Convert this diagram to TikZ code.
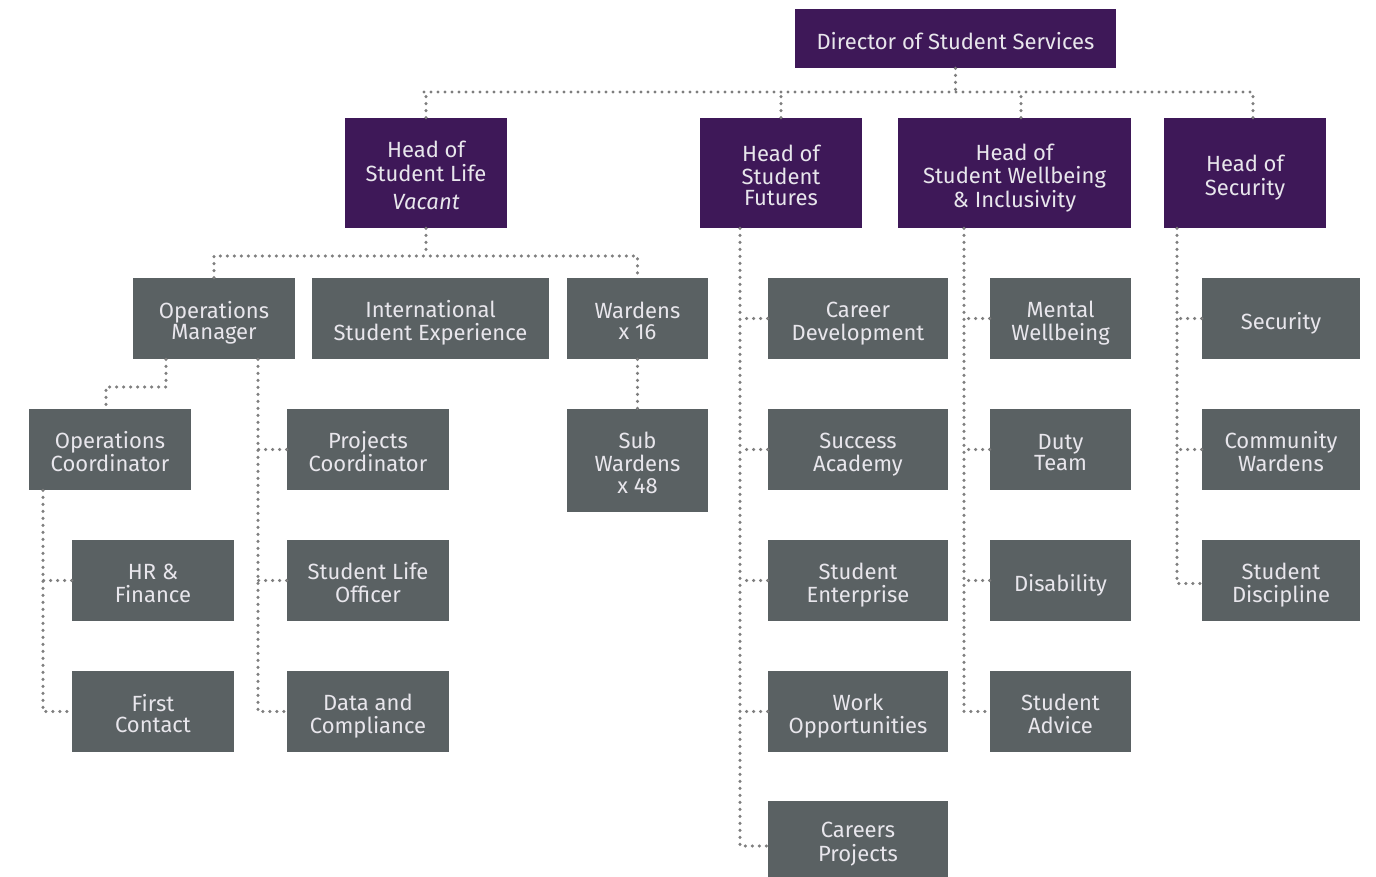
\documentclass[tikz,border=0pt]{standalone}
\usepackage{fontspec}
\setmainfont{Fira Sans}
\definecolor{headpurple}{HTML}{3E1858}
\definecolor{unitgrey}{HTML}{5A6163}
\definecolor{dotgrey}{HTML}{7E7E7E}
\definecolor{boxtext}{HTML}{E8E6EC}
\newcommand{\rolelines}[1]{{\renewcommand{\arraystretch}{0.96}%
	\begin{tabular}{@{}c@{}}\rule{0pt}{13.7pt}#1\end{tabular}}}

\begin{document}
\begin{tikzpicture}[x=0.5pt,y=-0.5pt,
		box/.style={rectangle, inner sep=0pt, text=boxtext,
			font=\fontsize{11}{11}\selectfont},
		head/.style={box, fill=headpurple, minimum height=55pt},
		unit/.style={box, fill=unitgrey, minimum height=40.5pt},
		link/.style={dotgrey, line width=1.7pt, line cap=round, dash pattern=on 0pt off 3.5pt}]
		\useasboundingbox (0,0) rectangle (1376,877);
		% top level
		\node[head, minimum width=160.5pt, minimum height=29.5pt] (dir) at (955.5,38.5) {\rolelines{Director of Student Services}};
		\node[head, minimum width=81pt] (hsl) at (426,173) {\rolelines{Head of\\Student Life\\[3.5pt]\textit{Vacant}}};
		\node[head, minimum width=81pt] (hsf) at (781,173) {\rolelines{Head of\\Student\\Futures}};
		\node[head, minimum width=116.5pt] (hswi) at (1014.5,173) {\rolelines{Head of\\Student Wellbeing\\\& Inclusivity}};
		\node[head, minimum width=81pt] (hsec) at (1245,173) {\rolelines{Head of\\Security}};
		% student life
		\node[unit, minimum width=81pt] (om) at (214,318.5) {\rolelines{Operations\\Manager}};
		\node[unit, minimum width=118.5pt] (ise) at (430.5,318.5) {\rolelines{International\\Student Experience}};
		\node[unit, minimum width=70.5pt] (war) at (637.5,318.5) {\rolelines{Wardens\\x 16}};
		\node[unit, minimum width=70.5pt, minimum height=51.5pt] (sw) at (637.5,460.5) {\rolelines{Sub\\Wardens\\x 48}};
		\node[unit, minimum width=81pt] (oc) at (110,449.5) {\rolelines{Operations\\Coordinator}};
		\node[unit, minimum width=81pt] (hr) at (153,580.5) {\rolelines{HR \&\\Finance}};
		\node[unit, minimum width=81pt] (fc) at (153,711.5) {\rolelines{First\\Contact}};
		\node[unit, minimum width=81pt] (pc) at (368,449.5) {\rolelines{Projects\\Coordinator}};
		\node[unit, minimum width=81pt] (slo) at (368,580.5) {\rolelines{Student Life\\Officer}};
		\node[unit, minimum width=81pt] (dc) at (368,711.5) {\rolelines{Data and\\Compliance}};
		% student futures
		\node[unit, minimum width=90pt] (cd) at (858,318.5) {\rolelines{Career\\Development}};
		\node[unit, minimum width=90pt] (sa) at (858,449.5) {\rolelines{Success\\Academy}};
		\node[unit, minimum width=90pt] (se) at (858,580.5) {\rolelines{Student\\Enterprise}};
		\node[unit, minimum width=90pt] (wo) at (858,711.5) {\rolelines{Work\\Opportunities}};
		\node[unit, minimum width=90pt, minimum height=38pt] (cpj) at (858,839) {\rolelines{Careers\\Projects}};
		% wellbeing
		\node[unit, minimum width=70.5pt] (mw) at (1060.5,318.5) {\rolelines{Mental\\Wellbeing}};
		\node[unit, minimum width=70.5pt] (dt) at (1060.5,449.5) {\rolelines{Duty\\Team}};
		\node[unit, minimum width=70.5pt] (dis) at (1060.5,580.5) {\rolelines{Disability}};
		\node[unit, minimum width=70.5pt] (sadv) at (1060.5,711.5) {\rolelines{Student\\Advice}};
		% security
		\node[unit, minimum width=79pt] (secu) at (1281,318.5) {\rolelines{Security}};
		\node[unit, minimum width=79pt] (cw) at (1281,449.5) {\rolelines{Community\\Wardens}};
		\node[unit, minimum width=79pt] (sdis) at (1281,580.5) {\rolelines{Student\\Discipline}};

		% links
		\coordinate (busL) at (424,92);
		\coordinate (busR) at (1253,92);
		\draw[link] (busL) -- (busR);
		\draw[link] (dir.south) -- (dir.south |- busL);
		\draw[link] (hsl.north) -- (hsl.north |- busL);
		\draw[link] (hsf.north) -- (hsf.north |- busL);
		\draw[link] ([xshift=3.25pt]hswi.north) -- ([xshift=3.25pt]hswi.north |- busL);
		\draw[link] ([xshift=4pt]hsec.north) -- ([xshift=4pt]hsec.north |- busL);

		\draw[link] (hsl.south) -- (hsl.south |- 0,256);
		\draw[link] (om.north) -- (om.north |- 0,256) -| (war.north);
		\draw[link] (war.south) -- (sw.north);

		\draw[link] (om.south -| 166,0) -- (166,387) -| (oc.north -| 106,0);
		\draw[link] (om.south -| 258,0) |- (dc.west);
		\foreach \n in {pc,slo}
			\draw[link] (\n.west) -- (\n.west -| 258,0);
		\draw[link] (oc.south -| 43,0) |- (fc.west);
		\draw[link] (hr.west) -- (hr.west -| 43,0);

		\draw[link] (hsf.south -| 740,0) |- ([yshift=-3.5pt]cpj.west);
		\foreach \n in {cd,sa,se,wo}
			\draw[link] (\n.west) -- (\n.west -| 740,0);

		\draw[link] (hswi.south -| 964,0) |- (sadv.west);
		\foreach \n in {mw,dt,dis}
			\draw[link] (\n.west) -- (\n.west -| 964,0);

		\draw[link] (hsec.south -| 1177,0) |- ([yshift=-1.5pt]sdis.west);
		\foreach \n in {secu,cw}
			\draw[link] (\n.west) -- (\n.west -| 1177,0);
\end{tikzpicture}
\end{document}
